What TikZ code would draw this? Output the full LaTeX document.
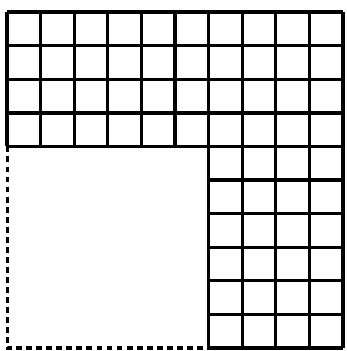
\documentclass[tikz,border=0pt]{standalone}
\begin{document}
\begin{tikzpicture}
    \def\gridSize{10}
    \def\cutSize{6}

    \definecolor{lineColour}{HTML}{000000}

    % Fix margins
    \useasboundingbox (-0.21,-0.09) rectangle (10.12,10.36);

    % Top band of squares
    \draw[step=1cm, lineColour, line width=2.8pt] (0,\cutSize) grid (\gridSize,\gridSize);

    % Right band of squares
    \draw[step=1cm, lineColour, line width=2.8pt] (\cutSize,0) grid (\gridSize,\cutSize);

    % Removed corner square
    \coordinate (C1) at (0,\cutSize);
    \coordinate (C2) at (0,0);
    \coordinate (C3) at (\cutSize,0);
    \draw[lineColour, line width=2.6pt, dash pattern=on 5pt off 3.5pt] (C1) -- (C2) -- (C3);

\end{tikzpicture}
\end{document}
